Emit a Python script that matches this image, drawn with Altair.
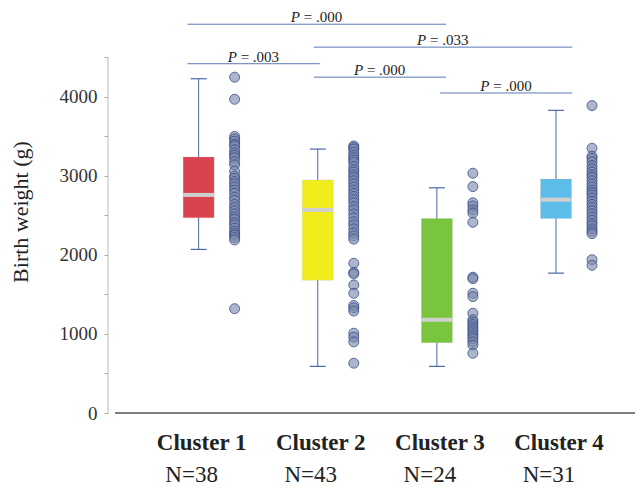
import altair as alt
import pandas as pd

clusters = ["Cluster 1", "Cluster 2", "Cluster 3", "Cluster 4"]
n_labels = ["N=38", "N=43", "N=24", "N=31"]
whisker_low = [2070, 590, 590, 1770]
q1 = [2470, 1680, 890, 2460]
median = [2760, 2570, 1180, 2700]
q3 = [3240, 2950, 2460, 2960]
whisker_high = [4230, 3340, 2850, 3830]
box_colors = ["#d9424f", "#f1ed1d", "#79c53e", "#5cbde9"]

dots_c1 = [4250, 3970,
           3500, 3470, 3440, 3400, 3380, 3330, 3290, 3260, 3230, 3180,
           3140, 3060, 3000, 2970, 2930, 2900, 2860, 2820, 2780, 2730,
           2690, 2640, 2600, 2560, 2520, 2480, 2450, 2410, 2380, 2340,
           2300, 2270, 2250, 2220, 2190,
           1320]
dots_c2 = [3380, 3360, 3340, 3300, 3260, 3230, 3200, 3170, 3120, 3080,
           3050, 3010, 2980, 2940, 2900, 2860, 2820, 2780, 2740, 2700,
           2660, 2610, 2570, 2520, 2470, 2420, 2380, 2330, 2280, 2240, 2200,
           1895, 1780, 1760, 1620, 1515, 1360, 1330, 1290, 1010, 960, 900, 630]
dots_c3 = [3034, 2865, 2660, 2620, 2570, 2530, 2413,
           1718, 1700, 1515, 1473,
           1262, 1180, 1150, 1120, 1090, 1060, 1030, 1000, 970, 940, 900, 860, 756]
dots_c4 = [3890, 3350,
           3250, 3220, 3180, 3130, 3090, 3050, 3010, 2980, 2940, 2900,
           2860, 2820, 2790, 2760, 2720, 2680, 2640, 2600, 2560, 2520,
           2480, 2440, 2400, 2370, 2330, 2300, 2270,
           1940, 1870]

sig_from = [1, 2, 1, 2, 3]
sig_to = [3, 4, 2, 3, 4]
sig_level = [4920, 4630, 4420, 4250, 4050]
sig_p = ["= .000", "= .033", "= .003", "= .000", "= .000"]
axis_top = [4500]

FONT = "Liberation Serif"

box_df = pd.DataFrame({
    "pos": [1, 2, 3, 4], "cluster": clusters, "nlab": n_labels,
    "lo": whisker_low, "q1": q1, "med": median, "q3": q3, "hi": whisker_high,
})
dot_rows = []
for i, vals in enumerate([dots_c1, dots_c2, dots_c3, dots_c4]):
    for v in vals:
        dot_rows.append({"pos": i + 1, "cluster": clusters[i], "w": v})
dot_df = pd.DataFrame(dot_rows)
sig_df = pd.DataFrame({"a": sig_from, "b": sig_to, "lvl": sig_level, "p": sig_p})
axis_df = pd.DataFrame({"bottom": [0], "top": axis_top})

xs = alt.Scale(domain=[0.13, 4.47], nice=False, zero=False)
ys = alt.Scale(domain=[0, 5100], nice=False)
X = alt.X("pos:Q", scale=xs, axis=None)
Y_AXIS = alt.Axis(
    values=[0, 500, 1000, 1500, 2000, 2500, 3000, 3500, 4000, 4500],
    labelExpr="datum.value % 1000 == 0 ? datum.label : ''",
    domain=False, grid=False, tickSize=4, tickColor="#aaaaaa",
    labelFont=FONT, labelFontSize=19, labelColor="#333333", labelPadding=7,
    title="Birth weight (g)", titleFont=FONT, titleFontSize=22,
    titleFontWeight="normal", titleColor="#222222", titlePadding=27,
    format="d",
)
colorscale = alt.Scale(domain=clusters, range=box_colors)

base = alt.Chart(box_df)

yaxis_line = alt.Chart(axis_df).mark_rule(color="#bbbbbb", strokeWidth=1).encode(
    x=alt.value(0), y=alt.Y("bottom:Q", scale=ys), y2=alt.Y2("top:Q")
)
baseline = alt.Chart(axis_df).mark_rule(color="#555555", strokeWidth=1.5).encode(
    x=alt.value(7), x2=alt.value(527), y=alt.Y("bottom:Q", scale=ys)
)

whisk = base.mark_rule(color="#4a68a8", strokeWidth=1, xOffset=-18).encode(
    x=X, y=alt.Y("lo:Q", scale=ys, axis=Y_AXIS), y2="hi:Q"
)
cap_lo = base.mark_rule(color="#4a68a8", strokeWidth=1.2, xOffset=-26, x2Offset=-10).encode(
    x=X, x2="pos:Q", y=alt.Y("lo:Q", scale=ys)
)
cap_hi = base.mark_rule(color="#4a68a8", strokeWidth=1.2, xOffset=-26, x2Offset=-10).encode(
    x=X, x2="pos:Q", y=alt.Y("hi:Q", scale=ys)
)
boxes = base.mark_bar(size=31, xOffset=-18, stroke="#bbbbbb", strokeWidth=0.5, strokeDash=[1, 1]).encode(
    x=X, y=alt.Y("q1:Q", scale=ys), y2="q3:Q",
    color=alt.Color("cluster:N", scale=colorscale, legend=None),
)
meds = base.mark_rule(color="#cfcfcf", strokeWidth=4, xOffset=-33.5, x2Offset=-2.5).encode(
    x=X, x2="pos:Q", y=alt.Y("med:Q", scale=ys)
)
dots = alt.Chart(dot_df).mark_point(
    shape="circle", size=100, xOffset=18, fill="#7c87aa", fillOpacity=0.62,
    stroke="#2c478a", strokeOpacity=0.75, strokeWidth=1, filled=False,
).encode(x=X, y=alt.Y("w:Q", scale=ys))

lab1 = base.mark_text(font=FONT, fontSize=23, fontWeight="bold", color="#222222",
                      dx=-15, baseline="alphabetic").encode(
    x=X, y=alt.value(440), text="cluster:N")
lab2 = base.mark_text(font=FONT, fontSize=23, color="#222222",
                      dx=-25, baseline="alphabetic").encode(
    x=X, y=alt.value(472), text="nlab:N")

sbase = alt.Chart(sig_df).transform_calculate(
    xa="2 + (datum.a - 2) * 1.06",
    xb="2 + (datum.b - 2) * 1.06",
    mid="(datum.xa + datum.xb) / 2",
    pl="'P'",
)
slines = sbase.mark_rule(color="#5a78b4", strokeWidth=1, xOffset=-22, x2Offset=-16).encode(
    x=alt.X("xa:Q", scale=xs, axis=None), x2="xb:Q", y=alt.Y("lvl:Q", scale=ys)
)
sP = sbase.mark_text(font=FONT, fontSize=15, fontStyle="italic", color="#222222",
                     align="left", baseline="alphabetic", dx=-45, dy=-2).encode(
    x=alt.X("mid:Q", scale=xs, axis=None), y=alt.Y("lvl:Q", scale=ys), text="pl:N")
sV = sbase.mark_text(font=FONT, fontSize=15, color="#222222",
                     align="left", baseline="alphabetic", dx=-32, dy=-2).encode(
    x=alt.X("mid:Q", scale=xs, axis=None), y=alt.Y("lvl:Q", scale=ys), text="p:N")

chart = alt.layer(
    whisk, yaxis_line, baseline, cap_lo, cap_hi, boxes, meds, dots, lab1, lab2, slines, sP, sV
).properties(
    width=527, height=403,
    background="white",
    autosize=alt.AutoSizeParams(type="none"),
    padding={"left": 100, "top": 2, "right": 0, "bottom": 78},
).configure_axis(domain=False, grid=False).configure_view(strokeWidth=0)

chart.save("out.html", embed_options={"renderer": "svg", "actions": False})
